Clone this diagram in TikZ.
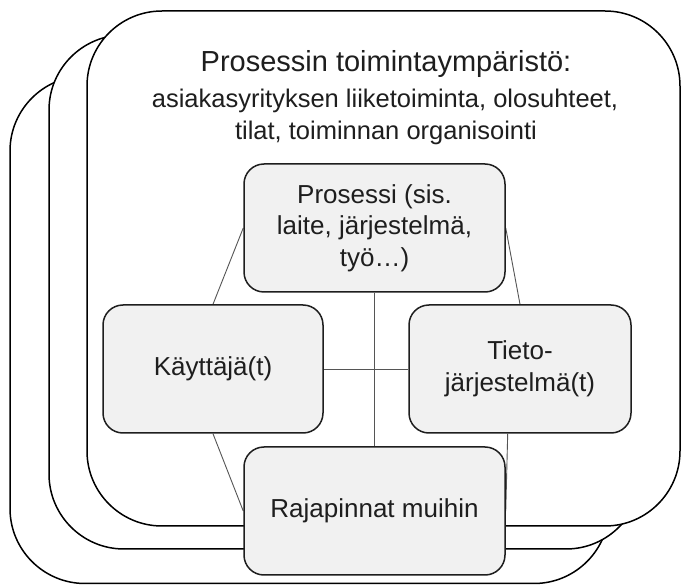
\documentclass[tikz,border=0pt]{standalone}
\usepackage{fontspec}
\setmainfont{Liberation Sans}
\usetikzlibrary{calc}
\definecolor{boxfill}{HTML}{F1F1F1}
\definecolor{ink}{HTML}{1E1E1E}
\definecolor{conn}{HTML}{555555}
\pgfdeclarelayer{envlayer}
\pgfdeclarelayer{linklayer}
\pgfsetlayers{envlayer,linklayer,main}
\begin{document}
\begin{tikzpicture}[x=1pt,y=-1pt,
  env/.style={draw=black, line width=1.5pt, fill=white, rounded corners=75pt},
  part/.style={draw=ink, line width=1.5pt, fill=boxfill, rounded corners=20pt,
    inner sep=0pt, align=center, text=ink, minimum height=128pt,
    font=\fontsize{26}{31.5}\selectfont},
  titletext/.style={anchor=base, text=ink, inner sep=0pt, font=\fontsize{29}{34}\selectfont},
  subtext/.style={anchor=base, text=ink, inner sep=0pt, font=\fontsize{25.5}{32}\selectfont},
  link/.style={draw=conn, line width=0.9pt}]
\useasboundingbox (0,0) rectangle (681,585);
% stacked environment frames
\begin{pgfonlayer}{envlayer}
\draw[env] (10,76) rectangle (609,583.5);
\draw[env] (49,35) rectangle (641,549);
\draw[env] (87,11) rectangle (680,526);
\end{pgfonlayer}
% title texts
\node[titletext] (title) at (386,72) {Prosessin toimintaympäristö:};
\node[subtext] (sub1) at (385,108) {asiakasyrityksen liiketoiminta, olosuhteet,};
\node[subtext] (sub2) at (386,140) {tilat, toiminnan organisointi};
% parts
\node[part, minimum width=261pt] (proc) at (374.5,228) {Prosessi (sis.\\laite, järjestelmä,\\työ…)};
\node[part, minimum width=220pt] (user) at (213,369) {Käyttäjä(t)};
\node[part, minimum width=222pt] (tieto) at (520,369) {Tieto-\\järjestelmä(t)};
\node[part, minimum width=261pt] (raja) at (374.5,511) {Rajapinnat muihin};
\coordinate (tb) at ($(tieto.south)+(-12.3,0)$);
% connectors (behind boxes)
\begin{pgfonlayer}{linklayer}
\draw[link] (proc.south) -- (raja.north);
\draw[link] (user.east) -- (tieto.west);
\draw[link] (proc.west) -- (user.north);
\draw[link] (proc.east) -- (tieto.north);
\draw[link] (user.south) -- (raja.west);
\draw[link] (tb) -- (raja.east);
\end{pgfonlayer}
\end{tikzpicture}
\end{document}
